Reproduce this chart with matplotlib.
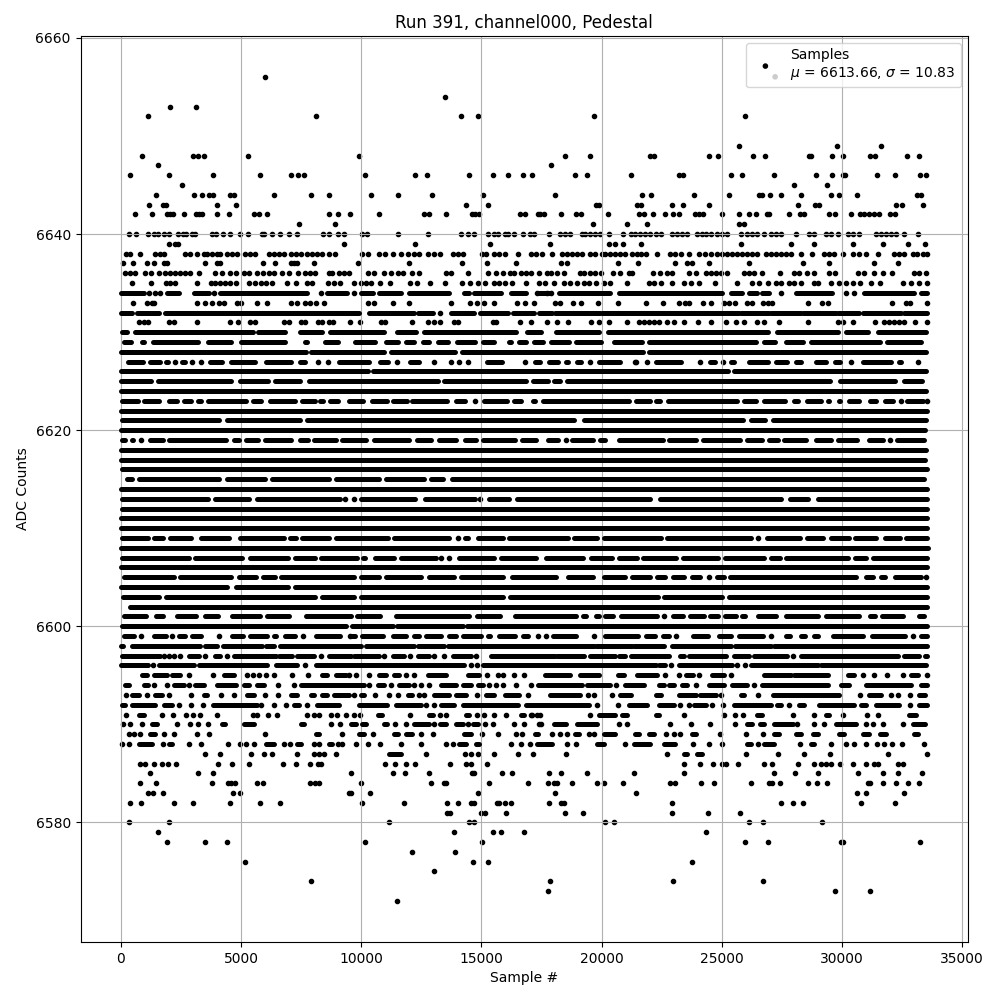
import matplotlib
matplotlib.use('Agg')
import matplotlib.pyplot as plt
import numpy as np

title = 'Run 391, channel000, Pedestal'
xlabel = 'Sample #'
ylabel = 'ADC Counts'
mean_adc = 6613.66
sigma_adc = 10.83
legend_colors = [(0, 0, 0, 0), (0, 0, 0, 1), (0.8, 0.8, 0.8, 1)]

# levels where single samples can be told apart
dot_levels = [6656, 6654, 6653, 6652, 6649, 6648, 6647, 6646, 6645, 6644, 6643, 6642, 6641, 6640, 6639, 6638, 6637,
              6636, 6635, 6634, 6633, 6632, 6631, 6627, 6623, 6619, 6613, 6609, 6607, 6605, 6601, 6599, 6597, 6596,
              6595, 6594, 6593, 6592, 6591, 6590, 6589, 6588, 6587, 6586, 6585, 6584, 6583, 6582, 6581, 6580, 6579,
              6578, 6577, 6576, 6575, 6574, 6573, 6572]
dot_samples = [
    [5990],
    [13500],
    [2030, 3130],
    [1110, 8120, 14165, 14870, 19666, 25963],
    [25713, 29800, 31634],
    [860, 2990, 3200, 3450, 5280, 9910, 18457, 19500, 22000, 22196, 24462, 24837, 26297, 26797, 28630, 28715, 29590, 30050, 31175, 31384, 32718, 33219],
    [1530, 17873],
    [400, 1990, 3820, 5780, 7075, 7367, 7617, 10160, 12245, 12745, 14500, 15500, 16120, 16710, 17095, 18874, 19374, 21209, 23211, 23378, 25379, 25838, 27172, 28924, 29590, 30050, 30133, 31468, 32218, 33260, 33510],
    [2530, 28006, 29383],
    [1445, 3030, 3364, 3655, 3820, 4530, 4700, 6366, 7910, 8660, 10410, 11540, 12955, 15080, 18040, 21668, 22043, 23836, 25296, 26547, 26672, 27005, 27464, 28298, 29549, 29883, 30634, 33135, 33302],
    [1154, 1737, 1860, 3990, 4780, 14370, 15290, 19750, 19875, 21460, 21626, 22919, 23378, 24462, 28173, 28882, 29049, 32260, 32510, 33386],
    [570, 1280, 1900, 2030, 2170, 2610, 3110, 3240, 3360, 3990, 4490, 5530, 5740, 6070, 8660, 9035, 9535, 10745, 12620, 12830, 13540, 14620, 14750, 14900, 16620, 16830, 17360, 17450, 17610, 18290, 18916, 19124, 20250, 21543, 21751, 22127, 22627, 22961, 23211, 23878, 24045, 24212, 25004, 25713, 26130, 26408, 26880, 26964, 27798, 28257, 28423, 29466, 29716, 30383, 30759, 30925, 31134, 31342, 31551, 32010, 32218],
    [7410, 8910, 19625, 21043, 21876, 25713, 25921],
    [360, 650, 1150, 1360, 1530, 1780, 2020, 2360, 2570, 2720, 2970, 3070, 3780, 3950, 4240, 4530, 4950, 5280, 5870, 5950, 6280, 6620, 6990, 7340, 8410, 8660, 9040, 9290, 10040, 10240, 11540, 12790, 14160, 14430, 14680, 15290, 15540, 15680, 15960, 16100, 16370, 16720, 17000, 17170, 17790, 18280, 18480, 18690, 19180, 19320, 19530, 19740, 19940, 20290, 20890, 21200, 21400, 21610, 21820, 22030, 22240, 22450, 22930, 23140, 23350, 23560, 23980, 24180, 24320, 24530, 24810, 25020, 25230, 25780, 26060, 26270, 26480, 26760, 27030, 27240, 27450, 28080, 28630, 28840, 29330, 29540, 29810, 30230, 30440, 30720, 31410, 31620, 31830, 32040, 32250, 32590, 33140],
    [1990, 2270, 2360, 9290, 12250, 15370, 17860, 20290, 20540, 20880, 21630, 25800, 27880, 28840, 30470, 31720, 32760, 33430],
    [220, 400, 810, 1430, 1640, 1810, 2680, 2890, 3170, 3450, 3590, 3790, 4000, 4140, 4420, 4630, 4840, 5180, 5390, 5600, 6160, 6370, 6570, 6780, 7060, 7270, 7480, 7760, 7960, 8170, 8380, 8660, 8910, 10040, 10290, 10740, 10990, 11300, 11650, 11930, 12200, 12410, 12790, 13040, 13290, 13800, 14010, 14220, 15030, 15190, 15540, 15750, 15960, 16540, 17040, 17250, 17500, 17920, 18350, 18550, 18760, 18970, 19180, 19530, 19740, 20010, 20150, 20360, 20570, 20780, 20990, 21260, 21450, 21640, 21860, 22310, 22860, 23070, 23280, 23630, 24040, 24300, 24530, 24810, 25020, 25230, 25430, 25640, 25850, 26060, 26270, 26480, 26820, 27030, 27240, 27450, 27660, 27870, 28300, 28760, 29260, 29470, 29670, 30020, 30440, 30720, 31010, 31510, 32180, 32380, 32590, 32940, 33110, 33360, 33530],
    [110, 490, 1070, 1400, 1780, 1920, 3490, 4000, 4140, 5910, 6410, 7060, 7200, 7340, 8030, 9870, 12000, 14210, 15250, 16420, 18300, 18540, 20670, 21500, 23040, 23560, 23750, 24460, 26130, 28380, 29470, 31340, 32340],
    [180, 390, 600, 990, 1260, 1570, 1850, 2060, 2270, 2470, 2680, 2890, 3240, 3930, 4210, 4560, 4770, 5120, 5320, 5670, 5910, 6160, 6370, 6710, 6990, 7370, 7650, 7870, 8080, 8660, 8800, 9080, 9290, 9490, 10290, 10540, 10950, 11230, 11510, 11720, 12130, 12410, 13520, 13730, 14460, 15260, 15610, 15890, 16170, 16370, 16650, 16860, 17070, 17380, 17720, 17890, 18140, 18420, 19110, 19250, 19500, 19740, 19990, 20460, 20750, 21130, 21260, 22130, 22420, 22720, 22930, 23630, 23910, 24320, 24530, 24740, 24950, 25230, 25920, 26130, 26340, 26690, 27410, 28010, 28210, 28560, 28840, 29470, 29720, 30650, 30930, 31340, 31720, 32070, 33010, 33220, 33500],
    [470, 1240, 1860, 2060, 2270, 3180, 3730, 3930, 4140, 4350, 4560, 4770, 5320, 5600, 5810, 6020, 6300, 6920, 7270, 7760, 7960, 8630, 8870, 9120, 9700, 9980, 10190, 10400, 10760, 11200, 12040, 12330, 12870, 13500, 14210, 14540, 14850, 15150, 15540, 15750, 15960, 16250, 16870, 17380, 17630, 18030, 18420, 18690, 18970, 19250, 19460, 19760, 20080, 20360, 21060, 21960, 22170, 22450, 22930, 23420, 23700, 24040, 24710, 25640, 26270, 26550, 26920, 27240, 27450, 27800, 28010, 28280, 28840, 29010, 29540, 29880, 30160, 30440, 30760, 31220, 31590, 32550, 32870, 33220, 33530],
    [1180, 1430, 1640, 3860, 8310, 9700, 17330, 17720, 17890, 27450, 30160, 30510],
    [490, 1080, 1290, 1400, 3170, 3490, 3780, 4100, 4310, 4820, 4990, 5660, 6070, 7080, 7330, 7660, 7870, 8120, 8450, 10290, 10540, 11330, 12000, 13750, 14540, 14830, 15120, 15540, 16460, 16830, 17170, 18070, 18280, 18790, 19120, 19830, 20670, 21830, 22540, 23210, 23450, 23630, 24210, 24550, 25090, 25300, 25550, 26060, 26270, 26710, 26920, 27090, 28590, 29170, 29420, 32090, 32640, 32840, 33520],
    [13290],
    [740, 950, 1150, 1990, 2200, 3180, 4530, 4870, 5390, 5600, 6780, 6990, 7480, 7650, 8200, 8380, 8660, 8830, 9540, 9950, 10830, 10990, 12120, 12790, 13040, 13290, 13870, 14040, 15460, 15620, 16620, 17040, 17710, 18140, 18580, 19540, 19870, 20290, 21040, 21540, 21750, 21960, 22170, 22380, 22710, 23000, 23420, 24000, 24550, 25170, 25590, 25920, 26480, 26760, 27380, 28590, 29810, 30020, 30470, 31380, 31760, 31970, 32180, 32380, 32590, 33050, 33550],
    [2245, 2960, 3345, 8200, 8620, 11475, 13045, 13740, 14085, 14460, 16795, 19500, 21375, 21440, 21885, 24075, 25035, 30380, 33170],
    [14752, 32470, 33520],
    [845, 18515, 31975],
    [9325, 9714, 14960],
    [14010, 26505],
    [13310, 13655],
    [24480, 33500],
    [22578],
    [835, 2140, 4070, 7590, 9535, 17335, 17680, 19695, 23090, 27060, 32950],
    [1780, 1990, 2200, 2470, 3490, 4420, 8310, 10930, 12040, 13010, 13460, 14780, 27940],
    [1320, 7650, 14570, 14820, 22890, 25640, 25960],
    [2820, 3820, 5250, 5490, 5740, 6020, 6390, 7130, 7780, 9490, 9800, 10330, 11870, 12200, 15230, 15680, 15890, 16350, 16790, 22630, 23210, 24040, 25380, 30880, 31340, 31880, 32550, 33530],
    [1400, 1900, 2820, 6530, 7200, 10330, 11230, 12200, 12480, 12830, 15330, 15610, 15890, 16440, 17070, 20580, 23920, 26340],
    [210, 1070, 1990, 2910, 4160, 4700, 5990, 6530, 9700, 10580, 11160, 11540, 12410, 12620, 14820, 16920, 19420, 19690, 20420, 24960, 26510, 30760, 32050, 32340, 32840],
    [2400, 2910, 3430, 5820, 6370, 6870, 7730, 12690, 13040, 19820, 20670, 23250, 23630, 24590, 25050, 27800, 32840],
    [220, 1700, 2150, 2700, 2990, 3280, 3990, 5490, 5660, 6120, 6490, 7760, 8030, 8240, 8730, 9010, 9370, 9700, 9950, 12040, 13260, 13540, 14830, 15120, 15540, 16040, 17040, 17420, 17100, 17300, 19500, 23420, 25090, 25550, 25880, 27960, 28840, 30040, 31050, 31500],
    [110, 390, 880, 2320, 2860, 3200, 3610, 8730, 9120, 11410, 11870, 13040, 14430, 15160, 15500, 16370, 16760, 17460, 17410, 20710, 21040, 22840, 23710, 24490, 25550, 28130, 28840, 29260, 31000, 31300, 31720, 32520],
    [320, 530, 810, 1780, 2200, 3160, 3660, 5990, 9200, 10490, 12500, 13000, 15040, 15670, 16420, 16670, 17920, 18250, 18550, 19460, 19670, 22670, 23000, 23250, 24920, 26000, 26710],
    [40, 320, 1740, 2820, 3320, 4450, 4950, 5200, 5530, 6780, 7030, 8030, 8240, 9040, 9200, 9770, 10290, 10790, 11650, 12500, 13540, 13830, 16240, 16650, 17000, 18540, 18920, 20960, 23790, 24450, 25000, 26510, 28260, 29550, 30180, 30510, 31010, 31470, 31760, 32090, 32480, 33390],
    [3490, 4110, 5410, 5950, 6280, 7330, 8030, 8240, 8450, 8940, 12700, 14330, 14580, 14870, 15540, 16500, 17140, 18500, 22710, 26000, 27340, 28420, 29510, 31930, 33530],
    [810, 990, 1360, 1700, 1950, 2280, 4030, 4610, 5320, 6740, 7280, 7870, 8200, 8330, 10990, 11410, 11870, 12250, 13710, 14370, 14580, 15210, 23420, 24090, 24630, 25020, 25160, 25670, 26760, 27090, 28170, 28840, 29120, 29330, 29540, 29920, 30470, 31010, 31340, 31480, 32320, 32550],
    [1200, 3200, 3820, 9580, 11330, 11830, 12830, 14620, 14710, 15850, 16250, 17830, 18290, 19370, 21330, 23420, 27170, 28050, 29010, 30680, 31720, 32340, 33340],
    [780, 1450, 3780, 4450, 4570, 4730, 5660, 5910, 7870, 8080, 8260, 9990, 12910, 13460, 13540, 15330, 16920, 17750, 18030, 18140, 18750, 19790, 20080, 20880, 22840, 23040, 24130, 24670, 26210, 26960, 27100, 27420, 28590, 28970, 29380, 31090, 31180, 31720, 32260, 32730, 33220],
    [1150, 1320, 1740, 4660, 4950, 9490, 9580, 10370, 14870, 18040, 21420, 30630, 31010, 32590],
    [400, 820, 2200, 2990, 4530, 5780, 6620, 10040, 11790, 13580, 14040, 14580, 14710, 15640, 15750, 15970, 16210, 17830, 18290, 18420, 22920, 27460, 27960, 28380, 30800, 32220],
    [13580, 13710, 14970, 15165, 16020, 18460, 19210, 22920, 24420, 25750],
    [320, 1990, 11160, 14500, 14710, 20130, 20500, 26130, 26710, 29170],
    [1530, 13870, 15460, 15830, 16750, 24340],
    [1900, 3490, 4410, 10160, 15040, 25960, 26920, 29950, 30040, 33260],
    [12120, 13910],
    [5160, 14660, 15290, 23770],
    [13040],
    [7910, 17870, 22960, 26710],
    [17750, 29720, 31180],
    [11500],
]

span_levels = [6634, 6632, 6630, 6629, 6628, 6627, 6626, 6625, 6624, 6623, 6622, 6621, 6620, 6619, 6618, 6617, 6616,
               6615, 6614, 6613, 6612, 6611, 6610, 6609, 6608, 6607, 6606, 6605, 6604, 6603, 6602, 6601, 6600, 6599,
               6598, 6597, 6596, 6595, 6594, 6593, 6592, 6591, 6590, 6589, 6588, 6587]
span_samples = [
    [(0, 950), (1920, 2400), (3030, 3660), (4140, 7760), (8590, 9420), (9980, 10470), (10740, 11650), (12000, 13660), (14290, 14500), (14710, 15820), (16240, 16860), (17380, 17830), (18210, 20360), (20710, 25020), (25370, 25850), (26130, 26480), (26690, 26960), (28080, 29600), (30930, 33010), (33290, 33540)],
    [(0, 460), (670, 1570), (1850, 9910), (10340, 12200), (12340, 12970), (13730, 14710), (14920, 15680), (15750, 16100), (16310, 17200), (17380, 17950), (18070, 19940), (20010, 25710), (25780, 26960), (27030, 28280), (28380, 29740), (29840, 30720), (30860, 32450), (32590, 33540)],
    [(40, 250), (590, 5500), (5700, 6820), (7440, 8350), (8690, 10960), (11200, 11210), (11500, 12280), (12620, 16440), (16880, 17480), (18100, 19910), (20250, 26920), (27290, 29835), (30170, 31080), (31490, 33480)],
    [(140, 430), (900, 980), (1320, 3210), (3620, 4600), (5000, 6820), (7650, 7730), (8480, 9050), (9325, 9330), (9745, 10570), (11050, 11515), (11855, 12210), (12550, 12835), (13175, 13600), (13965, 14735), (15045, 15510), (16130, 16235), (16545, 16860), (17200, 17555), (17890, 18660), (18930, 19980), (20530, 21690), (21985, 26435), (26770, 27195), (27675, 28375), (28715, 31570), (31880, 33300)],
    [(0, 7720), (7930, 10930), (11230, 13900), (14185, 21715), (21985, 33500)],
    [(280, 915), (1210, 1610), (1880, 1960), (2550, 2680), (3690, 4210), (4590, 5570), (6020, 7070), (7470, 7660), (9080, 10335), (10770, 11100), (12020, 12420), (15215, 15845), (17240, 17455), (17825, 18180), (18515, 18620), (18960, 19150), (19875, 20745), (22260, 23310), (24510, 24700), (25385, 25490), (26120, 26920), (27260, 27710), (28090, 28280), (28895, 29350), (29715, 29930), (30870, 32055), (32365, 32470)],
    [(0, 10270), (10470, 25250), (25500, 33500)],
    [(0, 1260), (1530, 4600), (4970, 6130), (6410, 7450), (7830, 13180), (13450, 16860), (17130, 17760), (18030, 18250), (18545, 29490), (29895, 32195), (32560, 33345)],
    [(0, 33500)],
    [(50, 730), (975, 1580), (1990, 2350), (2645, 2930), (3200, 3350), (3620, 5220), (5490, 5850), (6190, 7240), (7540, 8070), (8300, 8420), (8690, 9020), (9495, 10060), (10440, 11070), (11340, 11905), (12130, 13555), (13935, 14335), (15115, 16070), (16340, 16625), (17130, 17235), (17545, 21135), (21430, 21990), (22260, 22410), (22750, 25640), (25910, 26405), (26745, 27615), (28020, 28170), (28535, 29140), (29410, 29460), (29855, 29930), (30300, 30710), (31145, 31400), (31800, 32125), (32715, 33375)],
    [(0, 33550)],
    [(50, 4070), (4410, 7450), (7750, 18845), (19280, 25880), (26220, 26810), (27120, 33500)],
    [(0, 33450)],
    [(50, 180), (460, 500), (1210, 1750), (1990, 4390), (4690, 4900), (5220, 5710), (5980, 7070), (7440, 7770), (8020, 8940), (9220, 10200), (10510, 11975), (12300, 12905), (13215, 13945), (14300, 14780), (15045, 16375), (16670, 17275), (17750, 18180), (18765, 19635), (19930, 20120), (20740, 22550), (22790, 23935), (24230, 25770), (26050, 26685), (26940, 27335), (27605, 28490), (28895, 29555), (29825, 30625), (31120, 31710), (32295, 33400)],
    [(0, 33480)],
    [(0, 33430)],
    [(50, 33530)],
    [(240, 460), (770, 4070), (4410, 5990), (6290, 8660), (8930, 10750), (11050, 12600), (12895, 13390), (13755, 33400)],
    [(0, 33550)],
    [(50, 3630), (3930, 5320), (5670, 9120), (9980, 12240), (12645, 14735), (15325, 16125), (16490, 22020), (22430, 27475), (27815, 28585), (28995, 33530)],
    [(50, 33530)],
    [(0, 33530)],
    [(0, 33530)],
    [(50, 1120), (1390, 1750), (2050, 2930), (3340, 4500), (4940, 6790), (7050, 7270), (7520, 8660), (8970, 11100), (11370, 13670), (14325, 14430), (14840, 15890), (16155, 18595), (18865, 19815), (20110, 22480), (22720, 26225), (26870, 28265), (28550, 29210), (29520, 30290), (30550, 31430), (31770, 32430), (32670, 33530)],
    [(0, 33560)],
    [(50, 2820), (3100, 5040), (5380, 6960), (7230, 8070), (8340, 9820), (10080, 10155), (10565, 11375), (11645, 13110), (14075, 15510), (15810, 17275), (17685, 19220), (19560, 20425), (20710, 21470), (21710, 23075), (23370, 24840), (25110, 26740), (27050, 27405), (27675, 30250), (30520, 31015), (31285, 33530)],
    [(0, 33530)],
    [(140, 2210), (2460, 4570), (4910, 5640), (5910, 6400), (6670, 9710), (9980, 10750), (11020, 12490), (12800, 13850), (14145, 15890), (16270, 18110), (18585, 19635), (20110, 20955), (21265, 21990), (22300, 22645), (22955, 23410), (23750, 24075), (24790, 25075), (25345, 30595), (30980, 31290), (31630, 31805), (32215, 33265)],
    [(0, 4430), (4800, 6960), (7230, 33530)],
    [(100, 1570), (1880, 8070), (8370, 9710), (9980, 15890), (16185, 22340), (22610, 25020), (25315, 33530)],
    [(70, 75), (380, 33530)],
    [(140, 1030), (1460, 1750), (2320, 3140), (3480, 4040), (4630, 5780), (6080, 6990), (7720, 9570), (9840, 10795), (11465, 14500), (14795, 15790), (16405, 18940), (19240, 19360), (19765, 19870), (20155, 20465), (20805, 22295), (22955, 23380), (23690, 24240), (24510, 24840), (25110, 25575), (25830, 25950), (26495, 27240), (27675, 29000), (29340, 30710), (31145, 31360), (31660, 32515), (33185, 33400)],
    [(50, 9370), (9600, 11300), (11480, 14220), (14400, 33530)],
    [(140, 540), (1365, 1890), (2410, 2650), (2960, 3350), (4630, 5080), (5355, 6060), (6360, 6470), (6810, 7240), (8100, 9120), (9635, 9740), (10020, 10890), (11300, 11860), (12200, 12420), (12690, 13320), (13630, 13945), (14240, 14985), (15255, 15375), (15710, 16375), (16710, 16930), (17990, 18940), (20155, 21510), (21845, 22200), (22540, 22795), (23790, 24420), (24900, 25390), (25730, 26710), (27675, 27850), (28300, 28445), (28815, 29000), (29620, 30875), (31240, 32610), (33295, 33530)],
    [(0, 110), (460, 3310), (3520, 4000), (4250, 5880), (6020, 6370), (6640, 9980), (10190, 12200), (12340, 13460), (13600, 19670), (19760, 21265), (21330, 22585), (22930, 25365), (25530, 27030), (27170, 33530)],
    [(40, 1640), (2820, 3240), (3930, 4140), (4700, 6440), (6570, 7130), (7340, 8030), (8660, 9560), (9700, 10740), (11300, 11790), (12340, 12830), (13800, 14570), (15400, 18070), (18140, 19250), (19530, 20570), (20710, 20990), (21200, 22790), (23240, 23420), (23630, 25160), (25500, 26130), (26340, 27730), (28280, 32310), (32570, 33220), (33430, 33530)],
    [(0, 1150), (1570, 3030), (3240, 6090), (6440, 7340), (8100, 14290), (15050, 22240), (22380, 22650), (23210, 25430), (26200, 28980), (29120, 33500)],
    [(880, 1080), (1360, 1920), (2130, 2470), (4310, 4700), (8380, 8590), (8940, 9350), (10740, 11020), (11370, 11580), (12760, 13520), (14430, 14910), (17630, 18690), (19110, 19870), (20670, 20920), (21470, 22310), (23520, 23790), (24600, 25090), (26760, 27870), (28010, 29400), (30230, 30510), (32870, 33150)],
    [(180, 320), (950, 1150), (2220, 2610), (3100, 3450), (4000, 4770), (5120, 5320), (5670, 5950), (7480, 10120), (10680, 10950), (11580, 12000), (13320, 13940), (14220, 14570), (14850, 15050), (17370, 19180), (19390, 20360), (20990, 21750), (22380, 22590), (22790, 23000), (23350, 23560), (24460, 25090), (25430, 26060), (26690, 29400), (29950, 30300), (31000, 32870), (33290, 33530)],
    [(460, 740), (1430, 1710), (3450, 3590), (5250, 5530), (7060, 7340), (7900, 8030), (8380, 8590), (8870, 9490), (9980, 10120), (11930, 12130), (13040, 13660), (13940, 14360), (15190, 15540), (15960, 16580), (17860, 19110), (20780, 21200), (22240, 22450), (23210, 23910), (24110, 24740), (25780, 25920), (27130, 29880), (31130, 31620), (33220, 33430)],
    [(40, 180), (460, 1430), (1780, 2130), (3820, 5670), (7200, 7410), (8170, 9080), (9910, 11090), (11440, 12480), (13320, 13870), (14220, 16510), (16860, 19460), (21130, 21890), (22380, 23000), (23840, 24320), (25500, 27030), (27310, 27450), (28210, 28420), (29050, 30510), (30790, 31000), (31410, 32380), (33220, 33530)],
    [(740, 950), (10680, 10880), (12830, 12970), (14360, 14500), (16650, 16790), (19870, 20570), (20850, 21060), (22240, 22380), (26480, 26690), (29330, 29470), (32800, 33080)],
    [(1290, 1500), (4210, 4350), (5120, 5530), (7480, 7620), (9560, 9770), (10050, 10190), (10950, 11090), (12200, 12830), (13290, 13520), (13940, 14220), (14640, 14850), (18000, 18510), (18970, 19810), (26060, 26270), (26590, 26760), (27170, 27940), (29760, 30580), (32930, 33430)],
    [(1220, 1430), (8100, 8240), (9910, 10120), (11370, 11510), (11860, 12130), (14290, 14570), (17210, 17350), (18900, 19040), (20080, 20570), (21400, 21540), (21960, 22170), (23770, 23910), (27170, 27380), (28080, 28280), (28770, 28980), (29880, 30090), (30860, 31130), (31580, 31830), (33010, 33150)],
    [(740, 1290), (1990, 2130), (6020, 6370), (7340, 7480), (8660, 8800), (14080, 14360), (14780, 14910), (17300, 17930), (19810, 20080), (21330, 22030), (22590, 23070), (26060, 26200), (26760, 27170), (28700, 28840)],
    [(11160, 11650), (23420, 23560), (23980, 24180)],
]

fig, ax = plt.subplots(figsize=(10, 10))

for level, samples in zip(dot_levels, dot_samples):
    ax.scatter(samples, np.full(len(samples), level), c='k', marker='.')

for level, spans in zip(span_levels, span_samples):
    starts = [s[0] for s in spans]
    ends = [s[1] for s in spans]
    ax.hlines(np.full(len(spans), level), starts, ends, color='k', lw=3.6, capstyle='round')

# only here for the legend: first dot is clear, the other two are the black and grey legend dots
handle = ax.scatter([0, 0, 0], [span_levels[8]] * 3, c=legend_colors, marker='.',
                    label='Samples\n$\\mu$ = %.2f, $\\sigma$ = %.2f' % (mean_adc, sigma_adc))
ax.legend(handles=[handle], loc='upper right', scatterpoints=3, scatteryoffsets=[0.0, 0.475, -0.63])
handle.remove()

ax.set_title(title)
ax.set_xlabel(xlabel)
ax.set_ylabel(ylabel)
ax.grid(True)
fig.subplots_adjust(left=0.0805, right=0.968, top=0.964, bottom=0.058)
fig.savefig('out.png', dpi=100)
